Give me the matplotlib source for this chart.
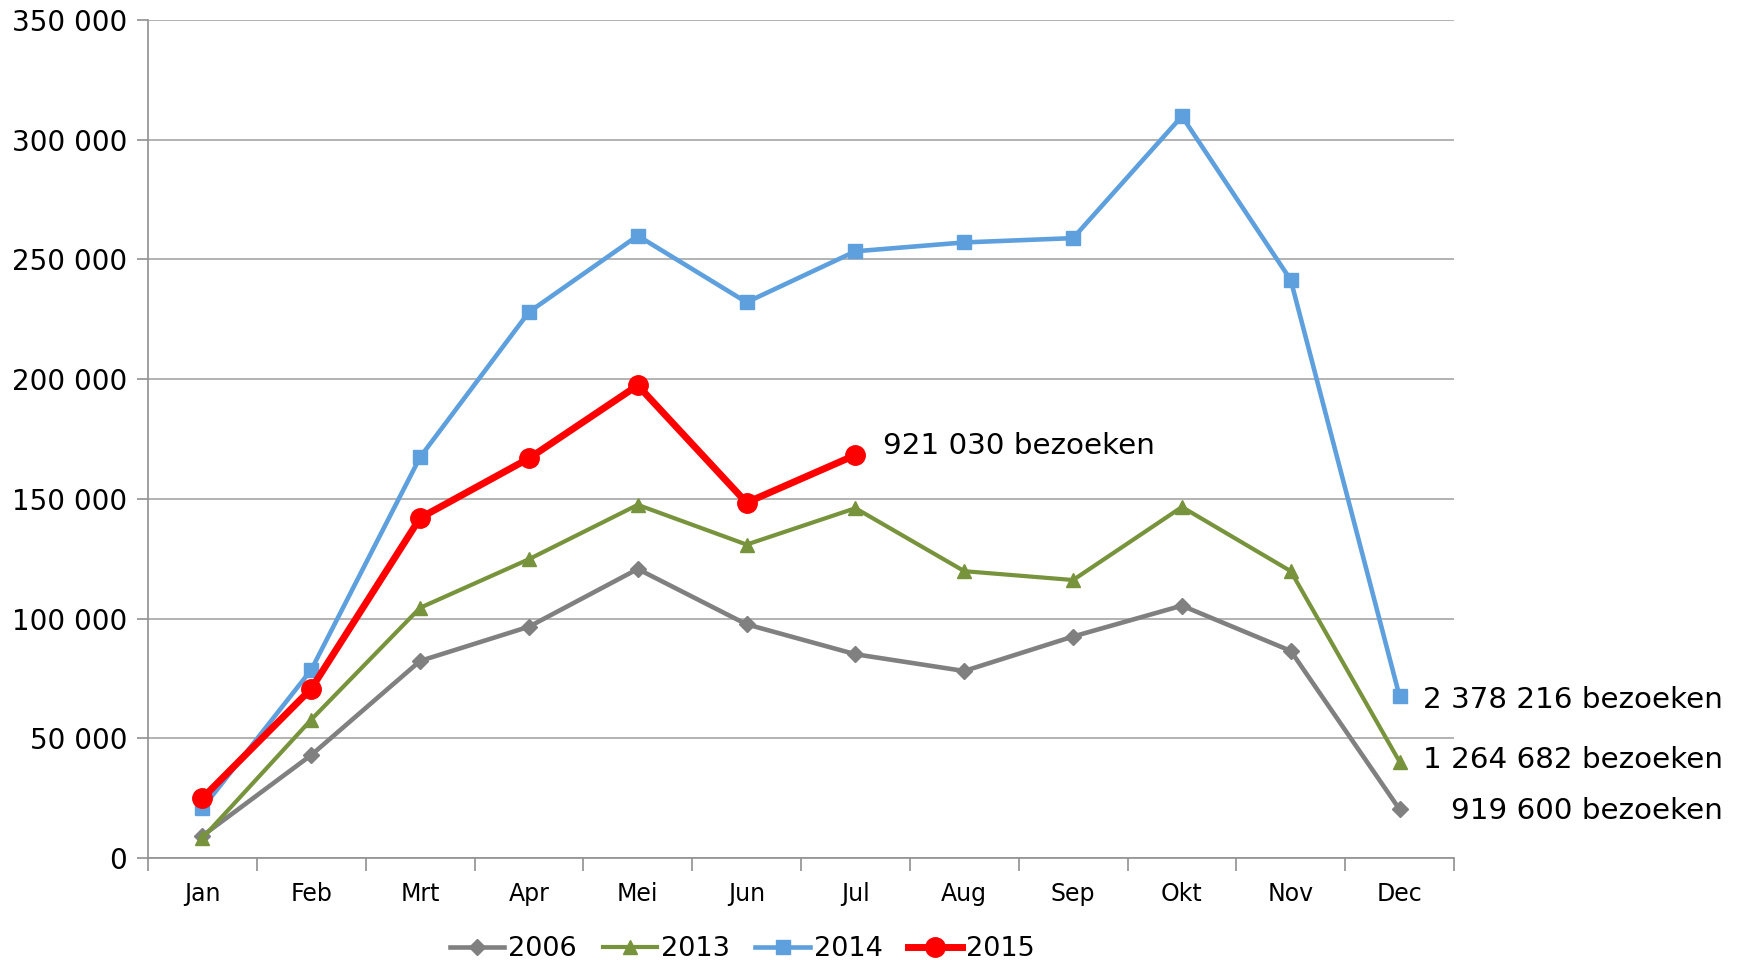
import matplotlib
matplotlib.use("Agg")
import matplotlib.pyplot as plt
from matplotlib.ticker import FuncFormatter, MultipleLocator, FixedLocator

months = ["Jan", "Feb", "Mrt", "Apr", "Mei", "Jun", "Jul", "Aug", "Sep", "Okt", "Nov", "Dec"]
v2006 = [9250, 43000, 82300, 96600, 120700, 97600, 85100, 78100, 92500, 105400, 86500, 20300]
v2013 = [8300, 57800, 104500, 124800, 147500, 130900, 146100, 119800, 116100, 146600, 119800, 40200]
v2014 = [20800, 78600, 167400, 228000, 259900, 232100, 253400, 257100, 258900, 309800, 241400, 67500]
v2015 = [25000, 70700, 142000, 166900, 197400, 148400, 168300]
totals = {"2006": "919 600 bezoeken", "2013": "1 264 682 bezoeken",
          "2014": "2 378 216 bezoeken", "2015": "921 030 bezoeken"}

plt.rcParams['font.family'] = ['DejaVu Sans']
fig = plt.figure(figsize=(17.39, 9.60), dpi=100)
ax = fig.add_axes([148/1739, 1-858/960, (1454-148)/1739, (858-20)/960])

x = list(range(12))
l06, = ax.plot(x, v2006, color="#808080", lw=3.3, marker="D", ms=8, label="2006", zorder=3)
l13, = ax.plot(x, v2013, color="#77933C", lw=3.0, marker="^", ms=10, label="2013", zorder=4)
l14, = ax.plot(x, v2014, color="#5EA0DD", lw=3.3, marker="s", ms=9.5, label="2014", zorder=5)
l15, = ax.plot(x[:len(v2015)], v2015, color="#FF0000", lw=5.0, marker="o", ms=14, label="2015", zorder=6)

ax.set_xlim(-0.5, 11.5)
ax.set_ylim(0, 350000)
ax.yaxis.set_major_locator(MultipleLocator(50000))
ax.yaxis.set_major_formatter(FuncFormatter(lambda v, p: f"{int(v):,}".replace(",", " ")))
ax.set_xticks(x)
ax.set_xticklabels(months)
ax.xaxis.set_minor_locator(FixedLocator([i - 0.5 for i in range(13)]))
ax.tick_params(axis="x", which="major", length=0, pad=17, labelsize=17)
ax.tick_params(axis="x", which="minor", length=9, color="#909090", width=1.2)
ax.tick_params(axis="y", length=8, color="#909090", width=1.2, pad=7, labelsize=20)
ax.grid(axis="y", color="#a6a6a6", lw=1.2)
ax.set_axisbelow(True)
for s in ["top", "right"]:
    ax.spines[s].set_visible(False)
for s in ["left", "bottom"]:
    ax.spines[s].set_color("#909090")
    ax.spines[s].set_linewidth(1.2)

fs = 21.2
ax.annotate(totals["2015"], xy=(6, v2015[6]), xytext=(28, 9), textcoords="offset pixels",
            ha="left", va="center", fontsize=fs)
ax.annotate(totals["2014"], xy=(11, v2014[11]), xytext=(23, -4), textcoords="offset pixels",
            ha="left", va="center", fontsize=fs, annotation_clip=False)
ax.annotate(totals["2013"], xy=(11, v2013[11]), xytext=(23, 2), textcoords="offset pixels",
            ha="left", va="center", fontsize=fs, annotation_clip=False)
ax.annotate(totals["2006"], xy=(11, v2006[11]), xytext=(51, -2), textcoords="offset pixels",
            ha="left", va="center", fontsize=fs, annotation_clip=False)

fig.legend(handles=[l06, l13, l14, l15], loc="center", bbox_to_anchor=(0.427, 1-949/960),
           ncol=4, frameon=False, fontsize=19.5, handlelength=2.0, handletextpad=0.15,
           columnspacing=0.95, borderaxespad=0)

fig.savefig("out.png", dpi=100)
